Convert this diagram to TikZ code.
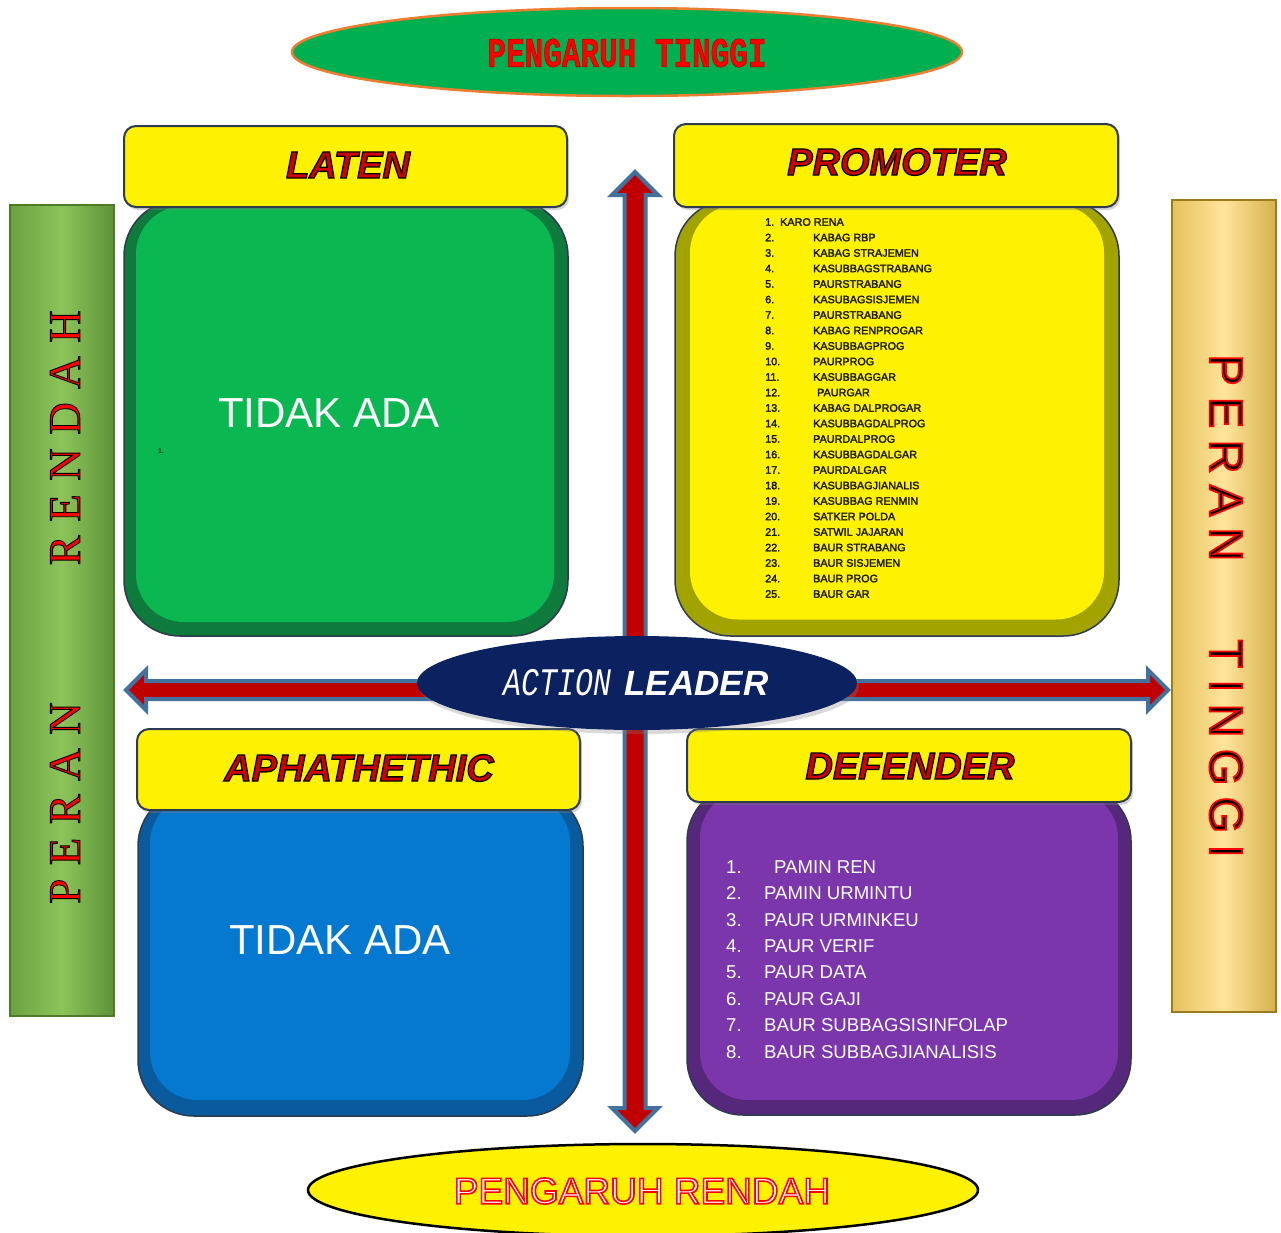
\documentclass[tikz,border=0pt]{standalone}
\usepackage{fontspec}
\usepackage{graphicx}
\setmainfont{Liberation Sans}
\newfontfamily\serifnm{Liberation Serif}
\newfontfamily\mononm{Liberation Mono}
\usetikzlibrary{shapes.geometric,shadows}

\definecolor{hdrline}{HTML}{2E3B4E}
\definecolor{greendk}{HTML}{0E7A3C}
\definecolor{greenlt}{HTML}{0BB751}
\definecolor{yellowdk}{HTML}{A3A300}
\definecolor{bluedk}{HTML}{0A5A9E}
\definecolor{bluelt}{HTML}{0578CF}
\definecolor{purpledk}{HTML}{55287C}
\definecolor{purplelt}{HTML}{7A36AA}
\definecolor{arrowred}{HTML}{C00000}
\definecolor{arrowblue}{HTML}{41719C}
\definecolor{navy}{HTML}{0B2160}
\definecolor{topgreen}{HTML}{00B050}
\definecolor{toporange}{HTML}{ED7D31}
\definecolor{hdrred}{HTML}{D00000}
\definecolor{barg1}{HTML}{6CA142}
\definecolor{barg2}{HTML}{8CC45A}
\definecolor{barg3}{HTML}{5E9238}
\definecolor{bargl}{HTML}{4F7A2A}
\definecolor{bary1}{HTML}{E6C25E}
\definecolor{bary2}{HTML}{FFE49A}
\definecolor{bary3}{HTML}{D6B050}
\definecolor{baryl}{HTML}{9C7A1E}

% outlined text: #1 line width, #2 stroke colour as "r g b", #3 fill colour, #4 text
\newcommand\outl[4]{{\color{#3}\special{pdf:literal direct #2 RG #1 w 2 Tr}#4\special{pdf:literal direct 0 Tr}}}
\newcommand\fsz[1]{\fontsize{#1}{#1}\selectfont}
\newcommand\sbold[1]{\outl{0.25}{0.1 0.1 0.1}{black!90}{#1}}

\tikzset{
  bodyout/.style={draw=hdrline, line width=1.5pt, rounded corners=56pt, inner sep=0pt},
  bodyin/.style={rounded corners=48pt, inner sep=0pt},
  hdrbox/.style={draw=hdrline, line width=2pt, fill=yellow, rounded corners=12pt, inner sep=0pt,
     drop shadow={shadow xshift=2pt, shadow yshift=-3pt, opacity=0.35}},
  hdrtext/.style={font=\fsz{38}\bfseries\itshape, inner sep=0pt},
  bigtext/.style={font=\fsz{42}, text=white, inner sep=0pt},
  arrowshape/.style={fill=arrowred, draw=arrowblue, line width=4pt, line join=miter},
  promnum/.style={font=\fsz{10.8}, text=black!90, anchor=west, inner sep=0pt},
  defnum/.style={font=\fsz{18.6}, text=white, anchor=west, inner sep=0pt},
}

\begin{document}
\begin{tikzpicture}[x=1pt,y=-1pt]
\useasboundingbox (0,0) rectangle (1281,1232);

% ---- arrows (behind everything) ----
\coordinate (vt) at (635,172);
\coordinate (vb) at (635,1131);
\coordinate (hl) at (126,690);
\coordinate (hr) at (1168,690);
\draw[arrowshape] (vt) -- ++(23,23) -- ++(-12.5,0) -- (645.5,1108) -- ++(12.5,0) -- (vb)
   -- (612,1108) -- ++(12.5,0) -- (624.5,195) -- ++(-12.5,0) -- cycle;
\draw[arrowshape] (hl) -- ++(20,-20) -- ++(0,11) -- (1148,681) -- ++(0,-11) -- (hr)
   -- (1148,710) -- ++(0,-11) -- (146,699) -- ++(0,11) -- cycle;

% ---- side bars ----
\node[draw=bargl, line width=1.5pt, minimum width=104pt, minimum height=811pt,
      shading=axis, left color=barg1, right color=barg3, middle color=barg2, inner sep=0pt]
   (leftbar) at (62,610.5) {};
\node[rotate=90, font=\serifnm\fsz{45}\addfontfeature{LetterSpace=30}, inner sep=0pt]
   (leftlbl) at (65,607) {\outl{0.9}{0 0 0}{red}{PERAN\hspace{137pt}RENDAH}};

\node[draw=baryl, line width=1.5pt, minimum width=104pt, minimum height=812pt,
      shading=axis, left color=bary1, right color=bary3, middle color=bary2, inner sep=0pt]
   (rightbar) at (1224,606) {};
\node[rotate=-90, font=\fsz{47}\addfontfeature{LetterSpace=24}, inner sep=0pt]
   (rightlbl) at (1226,606) {\outl{1.8}{1 0 0}{black}{PERAN\hspace{78pt}TINGGI}};

% ---- LATEN (top-left) ----
\node[bodyout, fill=greendk, minimum width=444pt, minimum height=436pt] (latb) at (346,418) {};
\node[bodyin, fill=greenlt, minimum width=418pt, minimum height=416pt] (latin) at (345,414) {};
\node[bigtext] (latx) at (329,413) {TIDAK ADA};
\node[font=\fsz{7}, inner sep=0pt] (latone) at (161,451) {1.};
\node[hdrbox, minimum width=443pt, minimum height=81pt] (lath) at (345.5,166.5) {};
\node[hdrtext] (latt) at (348,165) {\outl{1.3}{0 0 0}{hdrred}{LATEN}};

% ---- PROMOTER (top-right) ----
\node[bodyout, fill=yellowdk, minimum width=444pt, minimum height=436pt] (prob) at (897,418) {};
\node[bodyin, fill=yellow, minimum width=414pt, minimum height=415pt] (proin) at (897,412) {};
\node[hdrbox, minimum width=444pt, minimum height=83pt] (proh) at (896,165.5) {};
\node[hdrtext] (prot) at (897,162) {\outl{1.3}{0 0 0}{hdrred}{PROMOTER}};
\node[promnum] (p1) at (765,222) {\sbold{1.\ \ KARO RENA}};
\foreach \i/\t in {2/KABAG RBP,3/KABAG STRAJEMEN,4/KASUBBAGSTRABANG,5/PAURSTRABANG,
  6/KASUBAGSISJEMEN,7/PAURSTRABANG,8/KABAG RENPROGAR,9/KASUBBAGPROG,10/PAURPROG,
  11/KASUBBAGGAR,13/KABAG DALPROGAR,14/KASUBBAGDALPROG,15/PAURDALPROG,
  16/KASUBBAGDALGAR,17/PAURDALGAR,18/KASUBBAGJIANALIS,19/KASUBBAG RENMIN,
  20/SATKER POLDA,21/SATWIL JAJARAN,22/BAUR STRABANG,23/BAUR SISJEMEN,
  24/BAUR PROG,25/BAUR GAR}{
  \node[promnum] (pn\i) at (765,{222+(\i-1)*15.5}) {\sbold{\i.}};
  \node[promnum] (pt\i) at (813,{222+(\i-1)*15.5}) {\sbold{\t}};
}
\node[promnum] (pn12) at (765,{222+11*15.5}) {\sbold{12.}};
\node[promnum] (pt12) at (817,{222+11*15.5}) {\sbold{PAURGAR}};

% ---- APHATHETHIC (bottom-left) ----
\node[bodyout, fill=bluedk, minimum width=445pt, minimum height=326pt] (apab) at (360.5,953) {};
\node[bodyin, fill=bluelt, minimum width=420pt, minimum height=305pt] (apain) at (360,947.5) {};
\node[bigtext] (apax) at (340,940) {TIDAK ADA};
\node[hdrbox, minimum width=443pt, minimum height=81pt] (apah) at (358.5,769.5) {};
\node[hdrtext] (apat) at (359,768) {\outl{1.3}{0 0 0}{hdrred}{APHATHETHIC}};

% ---- DEFENDER (bottom-right) ----
\node[bodyout, fill=purpledk, minimum width=444pt, minimum height=330pt] (defb) at (909,950) {};
\node[bodyin, fill=purplelt, minimum width=418pt, minimum height=310pt] (defin) at (909,945) {};
\node[hdrbox, minimum width=444pt, minimum height=73pt] (defh) at (909,765.5) {};
\node[hdrtext] (deft) at (910,766) {\outl{1.3}{0 0 0}{hdrred}{DEFENDER}};
\node[defnum] (dn1) at (726,867) {1.};
\node[defnum] (dt1) at (774,867) {PAMIN REN};
\foreach \i/\t in {2/PAMIN URMINTU,3/PAUR URMINKEU,4/PAUR VERIF,5/PAUR DATA,
  6/PAUR GAJI,7/BAUR SUBBAGSISINFOLAP,8/BAUR SUBBAGJIANALISIS}{
  \node[defnum] (dn\i) at (726,{867+(\i-1)*26.4}) {\i.};
  \node[defnum] (dt\i) at (764,{867+(\i-1)*26.4}) {\t};
}

% ---- ellipses ----
\node[ellipse, fill=topgreen, draw=toporange, line width=2.5pt, minimum width=670pt,
      minimum height=88pt, inner sep=0pt] (topell) at (627,52) {};
\node[inner sep=0pt, font=\mononm\bfseries\fsz{31}] (toptxt) at (627,53)
   {\scalebox{1}[1.35]{\outl{0.5}{0.75 0 0}{red}{PENGARUH TINGGI}}};

\node[ellipse, fill=navy, minimum width=440pt, minimum height=94pt, inner sep=0pt,
      drop shadow={shadow xshift=2pt, shadow yshift=-4pt, opacity=0.3}] (center) at (637,683) {};
\node[inner sep=0pt, text=white] (centtxt) at (636,683)
   {{\mononm\itshape\fsz{30}\scalebox{1}[1.3]{ACTION}}\hspace{13pt}{\bfseries\itshape\fsz{35}LEADER}};

\node[ellipse, fill=yellow, draw=black, line width=2.5pt, minimum width=670pt,
      minimum height=92pt, inner sep=0pt] (botell) at (643,1190) {};
\node[inner sep=0pt, font=\fsz{37}] (bottxt) at (642,1191)
   {\outl{1.6}{1 0 0}{white}{PENGARUH RENDAH}};
\end{tikzpicture}
\end{document}
